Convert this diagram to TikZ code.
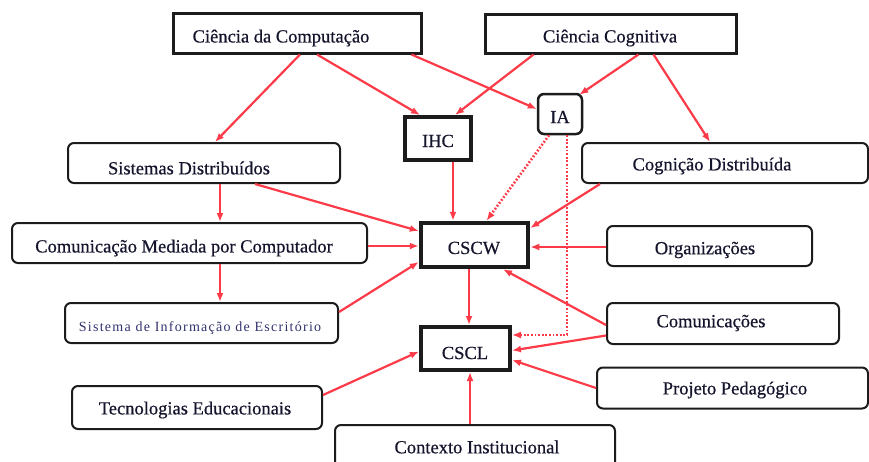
\documentclass[tikz,border=0pt]{standalone}
\usepackage{fontspec}
\setmainfont[FakeBold=0.5]{Liberation Serif}
\newfontfamily\spacedserif[LetterSpace=9]{Liberation Serif}
\usetikzlibrary{arrows.meta}
\definecolor{linkred}{RGB}{252,58,72}
\definecolor{edge}{RGB}{28,28,28}
\definecolor{inktext}{RGB}{20,20,45}
\tikzset{
  box/.style={draw=edge, line width=2pt, rounded corners=6pt, inner sep=0pt, fill=white},
  sqbox/.style={draw=edge, line width=3pt, inner sep=0pt, fill=white},
  hubbox/.style={draw=edge, line width=4.5pt, inner sep=0pt, fill=white},
  lbl/.style={inner sep=0pt, text=inktext, font=\fontsize{18.5}{20}\selectfont},
  link/.style={draw=linkred, line width=2.2pt, -{Latex[length=9pt,width=7pt]}},
  weaklink/.style={link, line width=2.6pt, dash pattern=on 1.8pt off 1.8pt},
}
\begin{document}
\begin{tikzpicture}[x=1pt, y=-1pt]
\useasboundingbox (0,0) rectangle (869,461);
\fill[white] (0,0) rectangle (869,461);
\begin{scope}
\clip (0,0) rectangle (869,461);

% boxes
\node[sqbox, minimum width=248pt, minimum height=40pt] (cdc) at (297,33) {};
\node[sqbox, minimum width=251pt, minimum height=39pt] (cc) at (610.5,33.5) {};
\node[hubbox, line width=4pt, minimum width=66pt, minimum height=43pt] (ihc) at (438,138.5) {};
\node[box, line width=2.5pt, minimum width=44pt, minimum height=40pt] (ia) at (560,114) {};
\node[box, minimum width=272pt, minimum height=40pt] (sd) at (204,163) {};
\node[box, minimum width=286pt, minimum height=40pt] (cd) at (725,163) {};
\node[box, minimum width=355pt, minimum height=40pt] (cmc) at (189.5,243) {};
\node[box, minimum width=273pt, minimum height=40pt] (sie) at (201.5,323) {};
\node[hubbox, minimum width=107pt, minimum height=44pt] (cscw) at (474.5,245) {};
\node[box, minimum width=205pt, minimum height=40pt] (org) at (709.5,246) {};
\node[box, minimum width=232pt, minimum height=41pt] (com) at (723,323.5) {};
\node[hubbox, line width=4pt, minimum width=89pt, minimum height=43pt] (cscl) at (465.5,348.5) {};
\node[box, minimum width=250pt, minimum height=43pt] (tec) at (197,407.5) {};
\node[box, minimum width=280pt, minimum height=52pt] (ctx) at (475,451) {};
\node[box, minimum width=271pt, minimum height=41pt] (pp) at (732.5,388) {};

% texts
\node[lbl] (cdc-t) at (281,38) {Ciência da Computação};
\node[lbl] (cc-t) at (610,38) {Ciência Cognitiva};
\node[lbl] (ihc-t) at (438,141) {IHC};
\node[lbl] (ia-t) at (560,117) {IA};
\node[lbl] (sd-t) at (189,168) {Sistemas Distribuídos};
\node[lbl] (cd-t) at (712,166) {Cognição Distribuída};
\node[lbl] (cmc-t) at (184,248) {Comunicação Mediada por Computador};
\node[lbl, font=\spacedserif\fontsize{14}{16}\selectfont, text={rgb,255:red,50;green,50;blue,110}] (sie-t) at (200,328) {Sistema de Informação de Escritório};
\node[lbl] (cscw-t) at (474,248) {CSCW};
\node[lbl] (org-t) at (705,250) {Organizações};
\node[lbl] (com-t) at (711,323) {Comunicações};
\node[lbl] (cscl-t) at (465,353) {CSCL};
\node[lbl] (tec-t) at (195,410) {Tecnologias Educacionais};
\node[lbl] (ctx-t) at (477,447) {Contexto Institucional};
\node[lbl] (pp-t) at (735,390) {Projeto Pedagógico};

% connectors from the top row
\draw[link] ([xshift=3pt]cdc.south) -- ([xshift=11pt]sd.north);
\draw[link] ([xshift=20pt]cdc.south) -- ([xshift=-18pt]ihc.north);
\draw[link] ([xshift=-11pt]cdc.south east) -- ([yshift=5pt]ia.west);
\draw[link] ([xshift=-77pt]cc.south) -- ([xshift=17pt]ihc.north);
\draw[link] ([xshift=28pt]cc.south) -- ([xshift=-4pt,yshift=-2pt]ia.north east);
\draw[link] ([xshift=43pt]cc.south) -- ([xshift=-15pt]cd.north);

% into CSCW
\draw[link] ([xshift=15pt]ihc.south) -- ([xshift=15pt]ihc.south |- cscw.north);
\draw[weaklink] ([xshift=-11pt]ia.south) -- ([xshift=12pt]cscw.north);
\draw[link] ([xshift=51pt]sd.south) -- ([yshift=14pt]cscw.west);
\draw[link] ([xshift=-125pt]cd.south) -- ([yshift=17pt]cscw.east);
\draw[link] ([yshift=-3pt]cmc.east) -- ([yshift=-3pt]cmc.east -| cscw.west);
\draw[link] ([yshift=11pt]sie.east) -- ([yshift=-17pt]cscw.west);
\draw[link] ([yshift=-1pt]org.west) -- ([yshift=-1pt]org.west -| cscw.east);
\draw[link] ([yshift=-1.5pt]com.west) -- ([xshift=28.5pt]cscw.south);

% left column chain
\draw[link] ([xshift=16pt]sd.south) -- ([xshift=16pt]sd.south |- cmc.north);
\draw[link] ([xshift=30.5pt]cmc.south) -- ([xshift=30.5pt]cmc.south |- sie.north);

% into CSCL
\draw[link] ([xshift=-5.5pt]cscw.south) -- ([xshift=-5.5pt]cscw.south |- cscl.north);
\draw[weaklink] ([xshift=7pt]ia.south) |- ([yshift=13.5pt]cscl.east);
\draw[link] ([yshift=-12pt]com.west) -- ([yshift=-2pt]cscl.east);
\draw[link] (pp.west) -- ([yshift=-11.5pt]cscl.east);
\draw[link] ([yshift=12.5pt]tec.east) -- ([yshift=-3pt]cscl.west);
\draw[link] ([xshift=-5pt]ctx.north) -- ([xshift=-5pt]ctx.north |- cscl.south);
\end{scope}
\end{tikzpicture}
\end{document}
